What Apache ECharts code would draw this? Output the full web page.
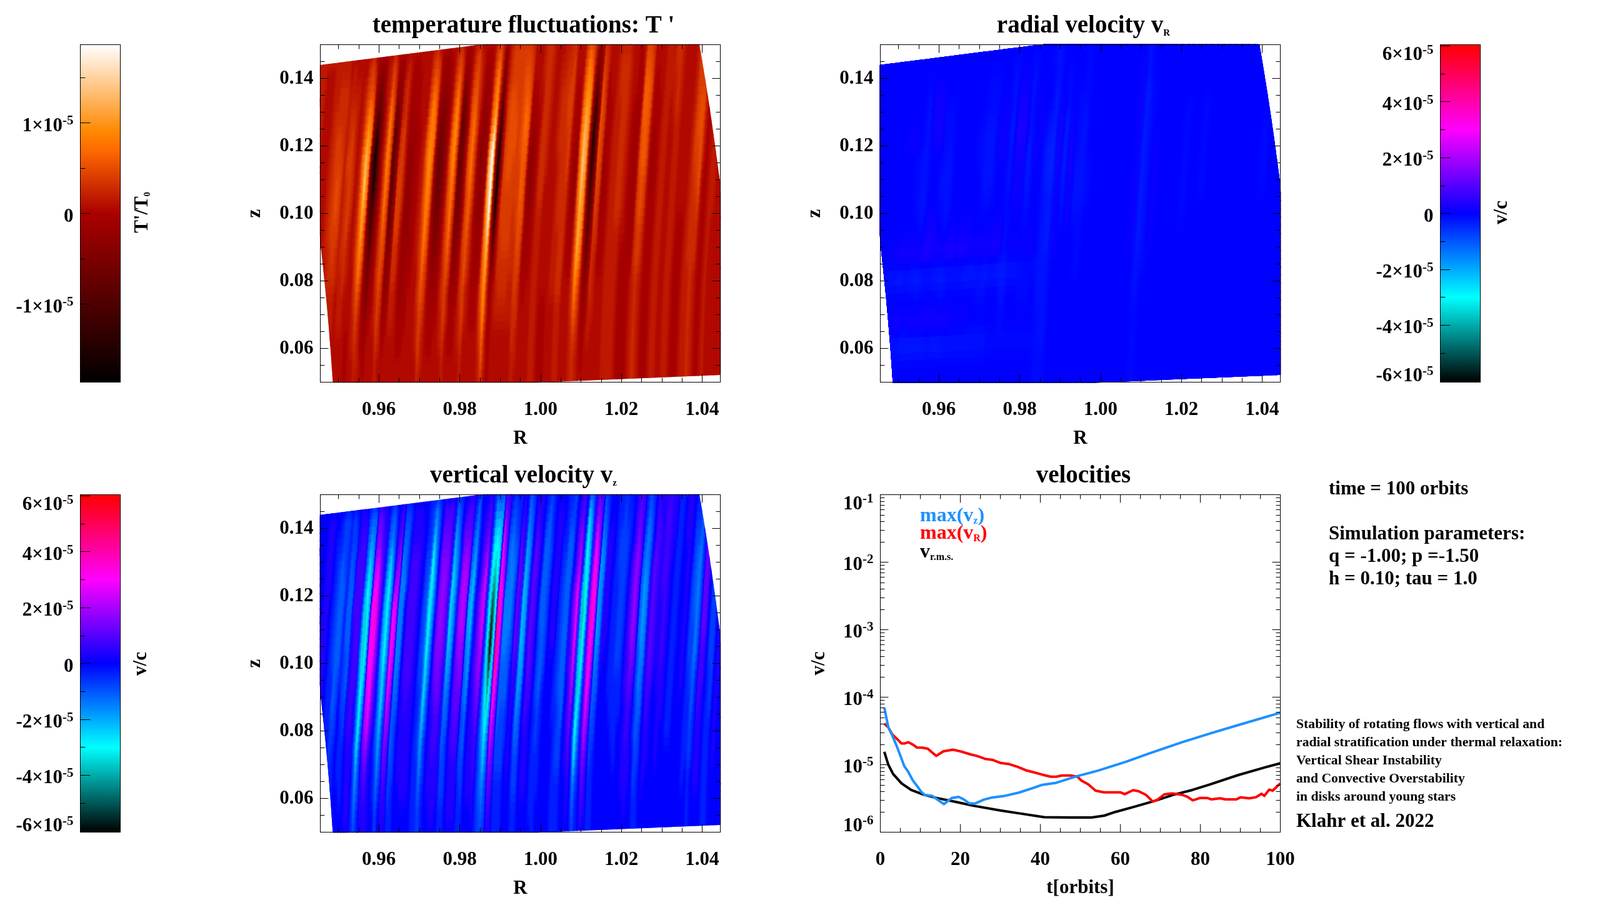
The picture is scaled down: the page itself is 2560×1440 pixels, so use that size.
<!DOCTYPE html>
<html><head><meta charset="utf-8">
<style>html,body{margin:0;padding:0;background:#fff}#c{width:2560px;height:1440px}</style>
<script src="https://cdn.jsdelivr.net/npm/echarts@6/dist/echarts.min.js"></script>
</head><body><div id="c"></div>
<script>
// ---- field tables: one 16-character string per column, bottom row to top row ----
const thetaRows=[0.050,0.057,0.064,0.071,0.078,0.085,0.092,0.099,0.106,0.113,0.120,0.127,0.134,0.141,0.148,0.151];
const rowShift=[0,0.00013,0.00034,0.0006,0.00087,0.00128,0.00168,0.00208,0.00248,0.00289,0.00329,0.00383,0.0043,0.00477,0.0053,0.0055];
const rInner=0.95, rOuter=1.05, firstColumnR=0.940;
const tempCols=[
'iiiiiiiiiiiiiiii','iiiiiiiiiiiiiiii','iiiiiiiiiiiiiiii','hhhhhhhhhhhhhhhi','gggggghhhhhhhhhi','gggggghhhhhhhhhi','hhhhhhiiiiiiiiii','hhhhhiijjjjjjiii','hhhiijjkkkkkjjii','hhhiijkkllkkjjii',
'hhhiijjkkkkjjjii','hhhhhiiiiiiiiihh','hhhiiijjjjkjjiih','hhhiijjkkkkkjihh','hhhhhiiijjjiiihh','ggghhhhhhhhhhhhh','hhhhhhiiiiiiiihh','hhiijkllmmnmlkji','iijklnoqrtsqolkj','hiiijkllnnoomkih',
'hhggfedcaa9acdfg','hgfecb9752148bef','hhhgfedcb99abdeg','hhhhggggffggghhh','hhhiijjjjjjjjiih','iijkkllmnnoonlkj','hhiijjkkkllkkjih','hhgfedca9888adfg','hhhgfeeddcccdefg','hhhiijjkkkjjiihh',
'hhhiijjkkkkkjjih','hhhhhhhhiiihhhhh','hhggfffeeeeffggh','hhggfffeeeefgggh','hhhgggffffffgghh','hhhhhggggggghhhh','hhhhhhhhhhhhhhhh','hhhhhhiiiiiihhhh','hhiijjkkllmmlkji','ijkklmnooppoomkj',
'hiijkkllmmnnmljh','hhhhhhggfffffggh','hhggfedcbaabdefg','hhggfedcbbbcdefg','hhhgffeedddeefgh','hhhhhhhhhhhhhhhh','hhiijjkkllmmlkji','iijkklmnnoppomkj','hhhiijjjkkkkjjih','hhggfedcbaa9bdfg',
'hhggfedcbbbbcefg','hhhhgggffggghhhh','hhiijjkkkllllkji','iijkkllmmnnnmlkj','hhhiijjjkkkkjjih','hhhhhhhggggghhhh','hhhggffeeddeefgh','hhhggffeeeeeffgh','hhhhhggggffgghhh','iijklmnoqsrnmlkj',
'jlmopqswyyyspolk','hiijjjhgfggghiii','ggffec9511259bdf','hhhhhggggefghhhh','hhhiijjkkkkkkjji','hhhijjkkkllllkkj','hhhijjkkkllllkkj','hhhijjkkkkllkkkj','hhhiijjjkkkkkkkj','hhhiijjkkkllllkj',
'iijjkkllmmmnmlkj','hiijjkklllmmlkji','hhhhhgggffggghhh','hhhhggfeddefghhh','hhhhhgggfffghhhh','hhhhhhhhhhhhhiii','iiiiiiiijjjjjjji','iiiiiiiijjjjjjji','hhhhhhhhhiiiiiih','gggghhhhhhhhhhhh',
'gggghhhhhhhhhhhh','hhhhhhhhhhiiiihh','hhhhiiiiiijjjiih','hhhhiiijjjjjjjii','iiiijjjjjjjkkjji','iiiijjjjjkkkkkjj','hhhhhhhhhhhhhhhi','hhhhhggfffggghhh','hhhhhggfeefghhhh','iiijjkklmmnnmlkj',
'jjkmoqrrstsrpolk','iijklnoppqqpomkj','hhhhhhggfeffghii','hgfedb9864358bef','hhhgfedcbaabdefh','hhiijjjkkllllkji','hhhiiijjkkkkjjii','hhhhhggfffggghhh','hhhhhgggfggghhhh','hhhhhhhhhhhhhhhi',
'iiiiiiiiiiiiiiii','iiiiiiiiiiiijjii','iiiiiiijjjjjjjii','iiiiiiijjjjjjjii','hhhhhhhiiiiiiihh','gggggghhhhhhhhhh','gggggggggggghhhh','ggggggffffffgghh','hhhhhgggggggghhh','iiiiijjkkllmmlkj',
'jjjjjkkllmmmmlkj','iiiiijjkkllllkji','hhhhhhhhhhhhhhhh','ggggggggfffgghhh','gggggggggggghhhh','hhhhhhhhhhhhhhhh','iiiiiiiiiiiiiiii','iiiiiiiiiiiiiiii','hhhhhhhhhhhhiihh','hhhhhhhhhhhiijjj',
'iiiiiiiiiiijjjji','iiiiiiiiiiiiiiii','hhhhhhhhhhhhhhhh','ggggggghhhhhhhhh','ggggggghhhhhhhhh','hhhhhhhhhhhhhhhh','iiiiiiiiiiiiiiii','iiiiijjjjkkkkkjj','jjjjjjjjkkllkkkj','iiiiijjkllllkkjj',
'hhhhhhhhhiiihhhh','ggggggggggggghhh','hhhhhhhhhhhhhhhh','iiiiiiiiiiiiiiii','hhhhhhhiiiiiiiii','hhhhhhhhhhhhhhhh','hhhhhhhhhhhhhhhh','hhhhhhhhhhhhhhhh','hhhhhhhhhhhhhhhh','hhhhhhhhhhhhhhhh','hhhhhhhhhhhhhhhh'];
const vzCols=[
'hhhhhhhhhhhhhhhh','hhhhhhhhhhhhhhhh','hhhhhhhhhhhhhhhh','hhhhhhhhhhhhhhhh','hhhhhhiiiiiiiiih','hhhhhhiiiiiiiiih','hhhhhhhhhhhhhhhh','hhhhhggggggggghh','hhhhhgggfffffggh','hhggffeeeeeeeffg',
'hhgggfffeeeefffg','hhhhhhhggggggggh','hhhgggfffeeeeffg','hhgggffeeeeeffgh','hhhhhiiiiijjjiih','hiiiijjjjjjjjjii','hiiiiiijjjjjjjih','ggggffeeddddeefg','fedca9987779acef','ggfffedcbbbbcdeg',
'hiijkmnoppponlkj','iijkmopqqrrqolki','iiiijkllmmmlkjii','hhhhhiiiiiiiiiih','hhggfeedccccdefg','ffedcbaa9999adef','hhgfffeeddddefgh','iijklmopqqpmkjih','hiijkllmnoonmkji','ggffeeeddddddefg',
'gggfffeeddddeefg','hhhhhhhhhhhggggh','hhhiiiijjjjjjiih','hhiiiijjjjjjjiih','hhiiiiijjjjjjiih','hhiiiiiiiiiiiihh','hhhhhhhhhhhhhhhh','gggggggffffffggg','ggggffffeeeefffg','ffedcbaa99889bdf',
'gggffeeddcccdefg','hhhhhhhhhhghhhhh','hhiiiijklllllkji','hiiijjkllmmmlkjh','hiiijjkklllllkji','hhiiiiiijjjjiiih','ggffeedcbaaabcef','ggfffeedccccdefg','hhhhhhhhhgggghhh','hiiijjkklmmmlkih',
'hiiijkklmnnnmkji','hiiijjkllmmmlkji','gggfffeedccdefgh','ggffeedccbbbcdef','hhhhhhhhgggggghh','hhiiiiijjjjiiihh','hhiiijkllmmlkjih','hiijjklmnooomkji','gggggggggggggggg','ffeedcba99889bdf',
'fedba86301368aef','gffedcba999aabdf','ijklnprtuusqpnkj','iijkllmnooomlkji','gggffeeedddeefgh','gggfffeedddddefg','gggfffeeedddefgh','hhhhggggfffffggh','hhhiiiijkkkkkjih','hhhhhhiijjjjiihh',
'ggffedccbbbbcdef','ggffeedccccddefg','hhhhhhhhiiiihhhh','hhiiijjkkkkkkjih','hhiiiijjjjjjjiih','hhhhhhhhhhhhhhhh','hgggggfffeeeefgg','ggggffeeeeeeeefg','hhgggggffffffggh','hhhhhhhhhhhhhhhh',
'hhhhhhhhiiiiiihh','hhhhhhhhiiiiiihh','hhhhhgggggggghhh','ggggggffffffgggh','gggfffeeeeeeefgg','gggffeeeeeeeeffg','hhhhhhhiiiihhhhh','hhhiijjkkllkkjih','hiijklnopppnmkji','hhhhgggffffgghhh',
'feda987776789aef','ggfeddcbbaabcdfg','hhhiijjkkkkkjjih','ijklnoqrrsrqpmkj','hiijkllmnoonlkji','gggffeedccccdefg','ggggffeeddddefgg','hhhhhhhiiiiiihhh','hhhhhhhhiiiiihhh','hhhhhhhhhhhhhhhh',
'hhhhhhgggggggggh','hhhhhggggggffggh','hhhhgggfffffffgh','hhhggggffffffggh','hhhhhggggggggghh','hhhhhhiiiiiihhhh','hhiiiijjkkkkjjih','hiiijjklmmmmlkjh','hhiiiijkkkkkjjih','hhhhggffeeeefggh',
'ggffeeddcccddefg','gggffeeddddeefgh','hhhhhhiiiiiihhhh','hhiiijjkkkkkjjih','hhhiiijjjjjjjiih','hhhhhhhiiiiiiiih','hhhhhhiiiijjjjih','hhhiiiijjjjjjjih','hhhhhiiiiiiiiiih','hhhhhhhhhhhhiiih',
'hhhhgggggggggggh','hhhhgggggggggggh','hhhhhhhhhhhhhhhh','hhhhhhhhhhhhiiih','hhhhhhiiiiiiiiih','hhhhhhhhhhhhhhhh','hhgggggffffffggh','hhhgggfffeeefggh','gggffeedddddeefg','hhhggggffffgghhh',
'hhiiijjjkkkkjjih','hhiiiijjkkkkjiih','hhhhhhhhhhhhhhhh','gggggggfffffgggh','gggggffffffffggh','hhhhhhhhhhhhhhhh','hhhiiiiiiiiihhhh','hhhhhhhhhhhhhhhh','hhhhhhhhhhhhhhhh','hhhhhhhhhhhhhhhh','hhhhhhhhhhhhhhhh'];
const vrCols=[
'hhhhhhhhhhhhhhhh','hhhhhhhhhhhhhhhh','hhhhhhhhhhhhhhhh','hhhhhhhhhhhhhhhh','hhfhhfihhhhhhhhh','hhfihfihhhhhhhhh','hhfjhejhhhhihhhh','hheihfjhhhhihhhh','hhejhejhggghhhhh','hhejgejgfffffghh',
'hhejhfkjhhhijihh','hhfjhfjjhhhjjihh','hhejhejhgfggghhh','hhejgejgfffgghhh','hhfjhfkihhhhhhhh','hhfihfjhhhhhhhhh','hhfihfkihhhhhhhh','hhfihejihhhhhhhh','hhfhhejhhhgghhhh','hhfhgfjhgfffgghh',
'hhfhgejhgfffgghh','hhghhfjihhiihhhh','hhghhejihhiiihhh','hhggfegggffeffgh','hhghhfihiijkjihh','hhghhfihiijkjihh','hhghgghgfeefffgh','hhghggihhhihihhh','hhghhghhhhhihhhh','ggggfffffeefhhgh',
'ggffffeeeddeeffg','hhhhhhiiiijjihhh','hhhhhhhgfeeegghh','hhhhhhhiijjihhhh','hhhhhhhgffggghhh','hhhhhgggffffgggh','hhhhhhhhgghhhhhh','hhhhhhhhhhhhhhhh','hhhhhhhhhhhhhhhh','hhhhhhhhhhhhhhhh',
'hhhhhhhhhhhhhhhh','hhhhhhhhhhhhhhhh','hhhhhhhhhhhhhhhh','hhhhhhhhhhhhhhhh','hhhhhhiiiiiiiihh','ggggffeeeeeeeffg','hhhhhgggggggghhh','hhhhhhiiiiihhhhh','hhhhhhhhhhhhhhhh','hhhhhhhhhhhhhhhh',
'hhhhhhhhhhhhhhhh','hhhhhhhhhhhhhhhh','hhhhhhhggggghhhh','hhhhhhhhhhhhhhhh','hhhhhhhhhhhhhhhh','hhhhhhhhgggghhhh','hhhhhhhhhhhhhhhh','hhhhhhhhhhhhhhhh','hhhhhhhhhhhhhhhh','hhhhhhhhhhhhhhhh',
'hhhhhhhhhhhhhhhh','hhhhhhhhhhhhhhhh','hhhhhhhhhhhhhhhh','hhhhhhhhhhhhhhhh','hhhhhhhhhhhhhhhh','hhhhhhhhggghhhhh','hhhhhhhhhhhhhhhh','hhhhhhhhhhhhhhhh','hhhhhhhhhhhhhhhh','hhhhhhhhhhhhhhhh','hhhhhhhhhhhhhhhh'];
// ---- velocity histories ----
const tBlack=[1,2,3.2,5.3,7.7,10.9,14,19.6,23,30,35,41,47.5,52.8,56,58.7,63.6,68.5,73.3,78,82.4,89.4,96.4,100];
const vBlack=[1.55e-5,1.0e-5,7.27e-6,5.29e-6,4.22e-6,3.58e-6,3.22e-6,2.75e-6,2.48e-6,2.1e-6,1.89e-6,1.67e-6,1.65e-6,1.65e-6,1.76e-6,1.99e-6,2.39e-6,2.9e-6,3.58e-6,4.22e-6,5.1e-6,7.0e-6,9.2e-6,1.05e-5];
const tBlue=[1,2,3,4.1,6,7,8.1,9.1,10.2,11.1,13,14.4,15.9,17.9,19.6,20.7,22.3,23.7,25.9,28,31.1,34.6,37.8,40.5,44,48.9,54.5,61.5,67.4,75.4,82.4,89.4,100];
const vBlue=[7.0e-5,3.58e-5,2.7e-5,1.89e-5,9.5e-6,7.8e-6,5.88e-6,4.92e-6,3.98e-6,3.58e-6,3.45e-6,3.0e-6,2.6e-6,3.22e-6,3.34e-6,3.1e-6,2.66e-6,2.66e-6,3.04e-6,3.27e-6,3.45e-6,3.85e-6,4.43e-6,5.03e-6,5.4e-6,6.68e-6,8.2e-6,1.11e-5,1.48e-5,2.15e-5,2.9e-5,3.85e-5,5.88e-5];
const tRed=[1,2,3,4.1,5.3,6,7,8.1,9.1,10.5,11.9,13,14,15.8,18.2,20.3,22.4,24.1,26.2,28,30.1,32.2,34.3,36.4,38.4,40.5,42.6,44,45.4,47.5,49.3,50.3,52,53.8,55.9,60,61.1,63.2,64.6,66.4,68.1,69.2,71,73,75.4,76.8,78.1,80,81.7,82.8,84.9,86.3,89,90.1,92.2,93.9,95.3,96,97.2,98.1,100];
const vRed=[4.06e-5,3.58e-5,2.8e-5,2.43e-5,2.06e-5,2.06e-5,2.15e-5,1.99e-5,1.8e-5,1.79e-5,1.72e-5,1.51e-5,1.35e-5,1.58e-5,1.67e-5,1.56e-5,1.43e-5,1.35e-5,1.22e-5,1.18e-5,1.06e-5,1.02e-5,9.3e-6,8.26e-6,7.7e-6,7.12e-6,6.64e-6,6.64e-6,6.92e-6,6.92e-6,6.64e-6,5.8e-6,5.1e-6,4.13e-6,3.9e-6,3.9e-6,3.66e-6,4.19e-6,4.04e-6,3.58e-6,2.85e-6,3.0e-6,3.63e-6,3.76e-6,3.58e-6,3.34e-6,2.96e-6,3.22e-6,3.22e-6,3.06e-6,3.18e-6,3.06e-6,3.06e-6,3.29e-6,3.18e-6,3.29e-6,3.71e-6,3.45e-6,4.27e-6,4.13e-6,5.29e-6];
// ---- tick labels ----
const rTicks=[0.96,0.98,1.00,1.02,1.04], rMinor=[0.95,0.955,0.965,0.97,0.975,0.985,0.99,0.995,1.005,1.01,1.015,1.025,1.03,1.035];
const zTicks=[0.06,0.08,0.10,0.12,0.14], zMinor=[0.055,0.065,0.07,0.075,0.085,0.09,0.095,0.105,0.11,0.115,0.125,0.13,0.135,0.145];
const tTicks=[0,20,40,60,80,100], tMinor=[5,10,15,25,30,35,45,50,55,65,70,75,85,90,95];
const vTicks=[1e-6,1e-5,1e-4,1e-3,1e-2,1e-1];
const vMinor=[];[1e-6,1e-5,1e-4,1e-3,1e-2].forEach(d=>[2,3,4,5,6,7,8,9].forEach(m=>vMinor.push(d*m)));
const tempBarTicks=[-1,0,1], tempBarMinor=[-1.5,-0.5,0.5,1.5];
const velBarTicks=[-6,-4,-2,0,2,4,6], velBarMinor=[-5,-3,-1,1,3,5];
// ---- colour tables (value in 1e-5, colour) ----
const tempStops=[[-1.862,[0,0,0]],[0,[170,0,0]],[0.7,[255,106,0]],[0.9,[255,136,0]],[1.862,[255,255,255]]];
const velStops=[[-6.04,[0,0,0]],[-3,[0,255,255]],[0,[0,0,255]],[3,[255,0,255]],[6.04,[255,0,0]]];

const FONT='"Liberation Serif","Times New Roman",serif';
function colorOf(stops,v){
  if(v<=stops[0][0])return stops[0][1];
  for(let i=1;i<stops.length;i++){if(v<=stops[i][0]){const a=stops[i-1],b=stops[i],f=(v-a[0])/(b[0]-a[0]);
    return a[1].map((c,n)=>Math.round(c+(b[1][n]-c)*f));}}
  return stops[stops.length-1][1];
}
const css=c=>`rgb(${c[0]},${c[1]},${c[2]})`;
const level=(cols,i,j,unit,zero)=>{const s=cols[i],ch=s[j]||s[s.length-1];return (parseInt(ch,36)-zero)*unit;};

const xAxes=[],yAxes=[],series=[];
const labelFont={fontFamily:FONT,fontWeight:'bold',fontSize:31,color:'#000'};
const black={color:'#000',width:1};
const supRich={b:{fontFamily:FONT,fontWeight:'bold',fontSize:31,color:'#000',lineHeight:36},
  sup:{fontFamily:FONT,fontWeight:'bold',fontSize:21,color:'#000',verticalAlign:'top',lineHeight:24,padding:[0,0,8,0]}};
function axis(list,o){
  const a={type:o.type||'value',gridIndex:o.grid,position:o.pos,min:o.min,max:o.max,z:10,scale:true,
    axisLine:{show:o.line!==false,onZero:false,lineStyle:black},
    axisTick:{show:!!o.ticks,inside:true,length:o.len||13,lineStyle:black},
    splitLine:{show:false},minorTick:{show:false},minorSplitLine:{show:false},
    axisLabel:{show:false}};
  if(o.type==='log')a.logBase=10;
  if(o.ticks)a.axisTick.customValues=o.ticks;
  if(o.labels)a.axisLabel=Object.assign({show:true,customValues:o.labels,margin:o.margin,hideOverlap:false,showMinLabel:true,showMaxLabel:true},labelFont,o.labelExtra||{});
  if(o.name){a.name=o.name;a.nameLocation='middle';a.nameGap=o.nameGap;a.nameTextStyle={fontFamily:FONT,fontWeight:'bold',fontSize:o.nameSize||31,color:'#000'};}
  list.push(a);return list.length-1;
}
function panel(i,xo,yo){
  const ix=axis(xAxes,Object.assign({grid:i,pos:'bottom',ticks:xo.major,labels:xo.major,margin:29},xo));
  axis(xAxes,{grid:i,pos:'top',min:xo.min,max:xo.max,type:xo.type,ticks:xo.major});
  axis(xAxes,{grid:i,pos:'bottom',min:xo.min,max:xo.max,type:xo.type,ticks:xo.minor,len:7,line:false});
  axis(xAxes,{grid:i,pos:'top',min:xo.min,max:xo.max,type:xo.type,ticks:xo.minor,len:7,line:false});
  const iy=axis(yAxes,Object.assign({grid:i,pos:'left',ticks:yo.major,labels:yo.labels||yo.major,margin:11},yo));
  axis(yAxes,{grid:i,pos:'right',min:yo.min,max:yo.max,type:yo.type,ticks:yo.major});
  axis(yAxes,{grid:i,pos:'left',min:yo.min,max:yo.max,type:yo.type,ticks:yo.minor,len:7,line:false});
  axis(yAxes,{grid:i,pos:'right',min:yo.min,max:yo.max,type:yo.type,ticks:yo.minor,len:7,line:false});
  return [ix,iy];
}
// one field panel: every table cell becomes a shaded cell placed through the axes
function fieldSeries(ax,cols,unit,zero,stops,stepR){
  const STRIPS=3,data=[];
  for(let i=0;i<cols.length-1;i++)for(let j=0;j<thetaRows.length-1;j++)for(let s=0;s<STRIPS;s++)data.push([i,j,s]);
  const place=(api,Rc,jf)=>{
    const j=Math.min(Math.floor(jf),thetaRows.length-2),f=jf-j;
    const th=thetaRows[j]+(thetaRows[j+1]-thetaRows[j])*f, sh=rowShift[j]+(rowShift[j+1]-rowShift[j])*f;
    let R=Rc+sh,z=R*Math.tan(th);const r=Math.hypot(R,z);
    const k=r<rInner?rInner/r:(r>rOuter?rOuter/r:1);
    return {p:api.coord([R*k,z*k]),free:api.coord([R,z])};
  };
  series.push({type:'custom',xAxisIndex:ax[0],yAxisIndex:ax[1],coordinateSystem:'cartesian2d',silent:true,animation:false,z:2,
    data,renderItem(params,api){
      const i=api.value(0),j=api.value(1),s=api.value(2);
      const R0=firstColumnR+i*stepR,R1=R0+stepR,a=j+s/STRIPS,b=j+(s+1)/STRIPS;
      const c1=place(api,R0,a),c2=place(api,R1,a),c3=place(api,R1,b),c4=place(api,R0,b);
      const pts=echarts.graphic.clipPointsByRect([c1.p,c2.p,c3.p,c4.p],params.coordSys);
      let area=0;for(let n=0;n<4;n++){const p=pts[n],q=pts[(n+1)%4];area+=p[0]*q[1]-q[0]*p[1];}
      if(Math.abs(area)<0.5)return null;
      const m=(s+0.5)/STRIPS;
      const val=ii=>level(cols,ii,j,unit,zero)*(1-m)+level(cols,ii,j+1,unit,zero)*m;
      const vL=val(i),vR=val(i+1);
      const grad=new echarts.graphic.LinearGradient((c1.free[0]+c4.free[0])/2,0,(c2.free[0]+c3.free[0])/2,0,
        [{offset:0,color:css(colorOf(stops,vL))},{offset:0.5,color:css(colorOf(stops,(vL+vR)/2))},{offset:1,color:css(colorOf(stops,vR))}],true);
      return {type:'polygon',shape:{points:pts},style:{fill:grad,stroke:grad,lineWidth:1.4}};
    }});
}
function colorBar(i,stops,major,minor,labelFn,extreme){
  const min=stops[0][0],max=stops[stops.length-1][0];
  const xi=axis(xAxes,{grid:i,pos:'bottom',min:0,max:1});
  axis(xAxes,{grid:i,pos:'top',min:0,max:1});
  const lab=pad=>({formatter:labelFn,rich:supRich,padding:pad});
  const inner=extreme?major.filter(v=>Math.abs(v)!==extreme):major;
  const yi=axis(yAxes,{grid:i,pos:'left',min,max,ticks:major,labels:inner,margin:11,len:16,labelExtra:lab([10,0,0,0])});
  axis(yAxes,{grid:i,pos:'right',min,max});
  axis(yAxes,{grid:i,pos:'left',min,max,ticks:minor,len:8,line:false});
  if(extreme){
    axis(yAxes,{grid:i,pos:'left',min,max,labels:[extreme],margin:11,line:false,labelExtra:lab([29,0,0,0])});
    axis(yAxes,{grid:i,pos:'left',min,max,labels:[-extreme],margin:11,line:false,labelExtra:lab([0,0,16,0])});
  }
  series.push({type:'custom',xAxisIndex:xi,yAxisIndex:yi,coordinateSystem:'cartesian2d',silent:true,animation:false,data:[[0,0]],
    renderItem(p,api){
      const a=api.coord([0,max]),b=api.coord([1,min]);
      const colorStops=stops.map(s=>({offset:(max-s[0])/(max-min),color:css(s[1])})).reverse();
      return {type:'rect',shape:{x:a[0],y:a[1],width:b[0]-a[0],height:b[1]-a[1]},style:{fill:new echarts.graphic.LinearGradient(0,0,0,1,colorStops)}};
    }});
}
const expLabel=v=>{ if(Math.abs(v)<1e-9)return '{b|0}'; return '{b|'+v+'×10}{sup|-5}'; };

const PW=640,PH=540;
const grids=[
 {left:512.5,top:71.5,width:PW,height:PH},{left:1408.5,top:71.5,width:PW,height:PH},
 {left:512.5,top:791.5,width:PW,height:PH},{left:1408.5,top:791.5,width:PW,height:PH},
 {left:128.5,top:71.5,width:64,height:PH},{left:2304.5,top:71.5,width:64,height:PH},{left:128.5,top:791.5,width:64,height:PH}];
const xBase={min:0.9455,max:1.0445,major:rTicks,minor:rMinor,labelExtra:{formatter:v=>v.toFixed(2)},name:'R',nameGap:75};
const yBase={min:0.05,max:0.15,major:zTicks,minor:zMinor,labelExtra:{formatter:v=>v.toFixed(2),padding:[6,0,0,0]},name:'z',nameGap:89};
const a0=panel(0,Object.assign({},xBase),Object.assign({},yBase));
const a1=panel(1,Object.assign({},xBase),Object.assign({},yBase));
const a2=panel(2,Object.assign({},xBase),Object.assign({},yBase));
fieldSeries(a0,tempCols,0.1094,16.5,tempStops,0.00075);
fieldSeries(a1,vrCols,0.1,17,velStops,0.0015);
fieldSeries(a2,vzCols,0.356,17,velStops,0.00075);
const powLabel=v=>'{b|10}{sup|'+Math.round(Math.log10(v))+'}';
const a3=panel(3,{min:0,max:100,major:tTicks,minor:tMinor,labelExtra:{formatter:v=>String(v)},name:'t[orbits]',nameGap:74},
  {type:'log',min:1e-6,max:1e-1,major:vTicks,minor:vMinor,labels:[1e-5,1e-4,1e-3,1e-2],name:'v/c',nameGap:82,
   labelExtra:{formatter:powLabel,rich:supRich,padding:[8,0,0,0]}});
axis(yAxes,{grid:3,pos:'left',type:'log',min:1e-6,max:1e-1,labels:[1e-1],margin:11,line:false,labelExtra:{formatter:powLabel,rich:supRich,padding:[30,0,0,0]}});
axis(yAxes,{grid:3,pos:'left',type:'log',min:1e-6,max:1e-1,labels:[1e-6],margin:11,line:false,labelExtra:{formatter:powLabel,rich:supRich,padding:[0,0,20,0]}});
const zipXY=(x,y)=>x.map((t,i)=>[t,y[i]]);
[[tBlack,vBlack,'#000000'],[tRed,vRed,'#ff0000'],[tBlue,vBlue,'#1e90ff']].forEach(([x,y,c])=>series.push({type:'line',xAxisIndex:a3[0],yAxisIndex:a3[1],data:zipXY(x,y),showSymbol:false,symbol:'none',smooth:false,silent:true,animation:false,z:3,lineStyle:{color:c,width:4,join:'round'}}));
colorBar(4,tempStops,tempBarTicks,tempBarMinor,expLabel,null);
colorBar(5,velStops,velBarTicks,velBarMinor,expLabel,6);
colorBar(6,velStops,velBarTicks,velBarMinor,expLabel,6);

const subR={sub:{fontFamily:FONT,fontWeight:'bold',fontSize:15,color:'#000',verticalAlign:'bottom',lineHeight:38}};
const titleOf=(text,x,y)=>({text,left:x,top:y,textAlign:'center',textStyle:{fontFamily:FONT,fontWeight:'bold',fontSize:39,color:'#000',rich:subR}});
const title=[titleOf("temperature fluctuations: T '",832.5,17),titleOf('radial velocity v{sub|R}',1728.5,17),titleOf('vertical velocity v{sub|z}',832.5,737),titleOf('velocities',1728.5,737)];
function txt(x,base,text,size,color){return {type:'text',x,y:base+size*0.2,silent:true,z:20,style:{text,fill:color||'#000',font:`bold ${size}px ${FONT}`,verticalAlign:'bottom',align:'left',rich:{sub:{fontFamily:FONT,fontWeight:'bold',fontSize:16,fill:color||'#000',verticalAlign:'bottom'}}}};}
function vtxt(x,y,text,size){return {type:'text',x,y,rotation:Math.PI/2,silent:true,z:20,style:{text,fill:'#000',font:`bold ${size}px ${FONT}`,verticalAlign:'middle',align:'center',rich:{sub:{fontFamily:FONT,fontWeight:'bold',fontSize:14,fill:'#000',verticalAlign:'bottom'}}}};}
const graphic=[
 txt(2126,792,'time = 100 orbits',31),txt(2126,864,'Simulation parameters:',31),txt(2126,900,'q = -1.00; p =-1.50',31),txt(2126,936,'h = 0.10; tau = 1.0',31),
 txt(2074,1166,'Stability of rotating flows with vertical and',21.7),txt(2074,1195,'radial stratification under thermal relaxation:',21.7),txt(2074,1224,'Vertical Shear Instability',21.7),txt(2074,1253,'and Convective Overstability',21.7),txt(2074,1282,'in disks around young stars',21.7),
 txt(2074,1324,'Klahr et al. 2022',31),
 txt(1472,835.5,'max(v{sub|z})',32,'#1e90ff'),txt(1472,863.5,'max(v{sub|R})',32,'#ff0000'),txt(1472,893.5,'v{sub|r.m.s.}',32,'#000'),
 vtxt(228,340,"T'/T{sub|0}",31),vtxt(2403,340,'v/c',31),vtxt(226,1062,'v/c',31)
];
const chart=echarts.init(document.getElementById('c'),null,{renderer:'canvas',width:2560,height:1440,devicePixelRatio:1});
chart.setOption({backgroundColor:'#fff',animation:false,title,graphic,grid:grids,xAxis:xAxes,yAxis:yAxes,series});
</script></body></html>
